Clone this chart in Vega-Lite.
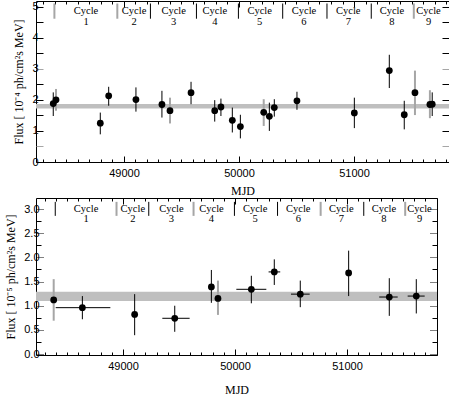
{
  "$schema": "https://vega.github.io/schema/vega-lite/v6.json",
  "padding": {"left": 4, "top": 0, "right": 0, "bottom": 0},
  "autosize": {"type": "pad"},
  "columns": 1,
  "align": "none",
  "spacing": 0,
  "config": {
    "view": {"stroke": "#000", "strokeWidth": 1},
    "axis": {"labelFont": "Liberation Sans", "labelFontSize": 11, "labelColor": "#000", "titleFont": "Liberation Serif", "titleFontSize": 12, "titleFontWeight": "normal", "titleColor": "#000", "domain": false, "grid": false, "tickColor": "#000", "labelOverlap": false, "labelFlush": false},
    "text": {"font": "Liberation Serif", "fontSize": 10.5, "color": "#000"}
  },
  "datasets": {
    "top": [
      {"mjd": 48385, "flux": 1.88, "lo": 1.48, "hi": 2.24, "kind": "a"},
      {"mjd": 48409, "flux": 2.00, "lo": 1.65, "hi": 2.35, "kind": "b"},
      {"mjd": 48794, "flux": 1.25, "lo": 0.89, "hi": 1.59, "kind": "a"},
      {"mjd": 48867, "flux": 2.13, "lo": 1.81, "hi": 2.42, "kind": "a"},
      {"mjd": 49104, "flux": 2.01, "lo": 1.62, "hi": 2.40, "kind": "a"},
      {"mjd": 49330, "flux": 1.85, "lo": 1.43, "hi": 2.29, "kind": "a"},
      {"mjd": 49400, "flux": 1.65, "lo": 1.24, "hi": 2.07, "kind": "b"},
      {"mjd": 49583, "flux": 2.23, "lo": 1.86, "hi": 2.58, "kind": "a"},
      {"mjd": 49789, "flux": 1.65, "lo": 1.30, "hi": 1.99, "kind": "a"},
      {"mjd": 49843, "flux": 1.77, "lo": 1.48, "hi": 2.04, "kind": "a"},
      {"mjd": 49942, "flux": 1.34, "lo": 0.95, "hi": 1.75, "kind": "a"},
      {"mjd": 50012, "flux": 1.14, "lo": 0.76, "hi": 1.52, "kind": "a"},
      {"mjd": 50215, "flux": 1.60, "lo": 1.16, "hi": 2.02, "kind": "b"},
      {"mjd": 50264, "flux": 1.47, "lo": 1.00, "hi": 1.91, "kind": "a"},
      {"mjd": 50307, "flux": 1.75, "lo": 1.46, "hi": 2.02, "kind": "a"},
      {"mjd": 50504, "flux": 1.97, "lo": 1.68, "hi": 2.26, "kind": "a"},
      {"mjd": 51003, "flux": 1.58, "lo": 1.09, "hi": 2.07, "kind": "a"},
      {"mjd": 51307, "flux": 2.94, "lo": 2.38, "hi": 3.45, "kind": "a"},
      {"mjd": 51437, "flux": 1.52, "lo": 1.05, "hi": 1.97, "kind": "a"},
      {"mjd": 51530, "flux": 2.23, "lo": 1.51, "hi": 2.94, "kind": "b"},
      {"mjd": 51660, "flux": 1.85, "lo": 1.41, "hi": 2.31, "kind": "b"},
      {"mjd": 51680, "flux": 1.86, "lo": 1.48, "hi": 2.24, "kind": "a"}
    ],
    "bot": [
      {"mjd": 48381, "flux": 1.12, "lo": 0.69, "hi": 1.55, "x0": null, "x1": null, "kind": "b"},
      {"mjd": 48637, "flux": 0.96, "lo": 0.72, "hi": 1.20, "x0": 48399, "x1": 48887, "kind": "a"},
      {"mjd": 49104, "flux": 0.82, "lo": 0.39, "hi": 1.24, "x0": null, "x1": null, "kind": "a"},
      {"mjd": 49462, "flux": 0.74, "lo": 0.46, "hi": 1.00, "x0": 49351, "x1": 49595, "kind": "a"},
      {"mjd": 49789, "flux": 1.39, "lo": 1.06, "hi": 1.74, "x0": null, "x1": null, "kind": "a"},
      {"mjd": 49848, "flux": 1.15, "lo": 0.81, "hi": 1.52, "x0": null, "x1": null, "kind": "b"},
      {"mjd": 50146, "flux": 1.34, "lo": 1.05, "hi": 1.62, "x0": 50012, "x1": 50280, "kind": "a"},
      {"mjd": 50351, "flux": 1.70, "lo": 1.43, "hi": 1.96, "x0": 50300, "x1": 50404, "kind": "a"},
      {"mjd": 50583, "flux": 1.24, "lo": 0.97, "hi": 1.52, "x0": 50500, "x1": 50667, "kind": "a"},
      {"mjd": 51015, "flux": 1.68, "lo": 1.20, "hi": 2.14, "x0": null, "x1": null, "kind": "a"},
      {"mjd": 51378, "flux": 1.18, "lo": 0.79, "hi": 1.57, "x0": 51288, "x1": 51453, "kind": "a"},
      {"mjd": 51619, "flux": 1.20, "lo": 0.84, "hi": 1.55, "x0": 51542, "x1": 51694, "kind": "a"}
    ],
    "sep": [
      {"mjd": 48395, "kt": "b", "kb": "a"},
      {"mjd": 48942, "kt": "b", "kb": "b"},
      {"mjd": 49230, "kt": "a", "kb": "a"},
      {"mjd": 49630, "kt": "a", "kb": "b"},
      {"mjd": 49995, "kt": "a", "kb": "a"},
      {"mjd": 50380, "kt": "a", "kb": "a"},
      {"mjd": 50765, "kt": "a", "kb": "b"},
      {"mjd": 51150, "kt": "a", "kb": "a"},
      {"mjd": 51520, "kt": "b", "kb": "b"}
    ],
    "cyc": [
      {"mjd": 48670, "n": "1"},
      {"mjd": 49088, "n": "2"},
      {"mjd": 49432, "n": "3"},
      {"mjd": 49790, "n": "4"},
      {"mjd": 50180, "n": "5"},
      {"mjd": 50565, "n": "6"},
      {"mjd": 50950, "n": "7"},
      {"mjd": 51330, "n": "8"},
      {"mjd": 51648, "n": "9"}
    ]
  },
  "concat": [
    {
      "width": 413,
      "height": 161,
      "resolve": {"axis": {"x": "independent", "y": "independent"}},
      "layer": [
        {
          "data": {"values": [{"lo": 1.72, "hi": 1.87}]},
          "mark": {"type": "rect", "color": "#bfbfbf"},
          "encoding": {
            "x": {"datum": 48235, "type": "quantitative", "scale": {"domain": [48235, 51826], "nice": false, "zero": false},
              "axis": {"orient": "bottom", "title": "MJD", "titlePadding": 4,
                "values": [48300,48400,48500,48600,48700,48800,48900,49000,49100,49200,49300,49400,49500,49600,49700,49800,49900,50000,50100,50200,50300,50400,50500,50600,50700,50800,50900,51000,51100,51200,51300,51400,51500,51600,51700,51800],
                "labelExpr": "datum.value % 1000 === 0 ? datum.value : ''",
                "tickSize": {"condition": {"test": "datum.value % 1000 === 0", "value": -6}, "value": -3},
                "labelPadding": 11}},
            "x2": {"datum": 51826},
            "y": {"field": "lo", "type": "quantitative", "scale": {"domain": [0, 5.18], "nice": false, "zero": false},
              "axis": {"orient": "left", "title": "Flux [ 10⁻⁴ ph/cm²s MeV]", "titlePadding": 6,
                "values": [0, 0.5, 1, 1.5, 2, 2.5, 3, 3.5, 4, 4.5, 5],
                "labelExpr": "datum.value % 1 === 0 ? datum.value : ''",
                "tickSize": -7,
                "tickColor": {"condition": {"test": "datum.value === 0.5 || datum.value === 3", "value": "#a6a6a6"}, "value": "#000"},
                "labelPadding": 5}},
            "y2": {"field": "hi"}
          }
        },
        {
          "data": {"name": "sep"},
          "mark": {"type": "rule"},
          "encoding": {
            "x": {"field": "mjd", "type": "quantitative", "scale": {"domain": [48235, 51826], "nice": false, "zero": false},
              "axis": {"orient": "top", "title": null, "labels": false,
                "values": [48300,48400,48500,48600,48700,48800,48900,49000,49100,49200,49300,49400,49500,49600,49700,49800,49900,50000,50100,50200,50300,50400,50500,50600,50700,50800,50900,51000,51100,51200,51300,51400,51500,51600,51700,51800],
                "tickSize": {"condition": {"test": "datum.value % 1000 === 0", "value": -6}, "value": -3}}},
            "y": {"datum": 5.1, "type": "quantitative",
              "axis": {"orient": "right", "title": null, "labels": false,
                "values": [0, 0.5, 1, 1.5, 2, 2.5, 3, 3.5, 4, 4.5, 5],
                "tickSize": -7,
                "tickColor": {"condition": {"test": "datum.value === 0.5 || datum.value === 3", "value": "#a6a6a6"}, "value": "#000"}}},
            "y2": {"datum": 4.61},
            "color": {"field": "kt", "type": "nominal", "scale": {"domain": ["a", "b"], "range": ["#000000", "#a6a6a6"]}, "legend": null},
            "strokeWidth": {"field": "kt", "type": "nominal", "scale": {"domain": ["a", "b"], "range": [1, 2]}, "legend": null}
          }
        },
        {
          "data": {"name": "cyc"},
          "mark": {"type": "text"},
          "encoding": {
            "x": {"field": "mjd", "type": "quantitative", "axis": null},
            "y": {"datum": 4.86, "type": "quantitative", "axis": null},
            "text": {"value": "Cycle"}
          }
        },
        {
          "data": {"name": "cyc"},
          "mark": {"type": "text"},
          "encoding": {
            "x": {"field": "mjd", "type": "quantitative", "axis": null},
            "y": {"datum": 4.5, "type": "quantitative", "axis": null},
            "text": {"field": "n"}
          }
        },
        {
          "data": {"name": "top"},
          "mark": {"type": "rule"},
          "encoding": {
            "x": {"field": "mjd", "type": "quantitative", "axis": null},
            "y": {"field": "lo", "type": "quantitative", "axis": null},
            "y2": {"field": "hi"},
            "color": {"field": "kind", "type": "nominal", "legend": null},
            "strokeWidth": {"field": "kind", "type": "nominal", "legend": null}
          }
        },
        {
          "data": {"name": "top"},
          "mark": {"type": "circle", "size": 46, "color": "#000", "opacity": 1},
          "encoding": {
            "x": {"field": "mjd", "type": "quantitative", "axis": null},
            "y": {"field": "flux", "type": "quantitative", "axis": null}
          }
        }
      ]
    },
    {
      "width": 401,
      "height": 157,
      "resolve": {"axis": {"x": "independent", "y": "independent"}},
      "layer": [
        {
          "data": {"values": [{"lo": 1.10, "hi": 1.29}]},
          "mark": {"type": "rect", "color": "#bfbfbf"},
          "encoding": {
            "x": {"datum": 48223, "type": "quantitative", "scale": {"domain": [48223, 51804], "nice": false, "zero": false},
              "axis": {"orient": "bottom", "title": "MJD", "titlePadding": 10,
                "values": [48300,48400,48500,48600,48700,48800,48900,49000,49100,49200,49300,49400,49500,49600,49700,49800,49900,50000,50100,50200,50300,50400,50500,50600,50700,50800,50900,51000,51100,51200,51300,51400,51500,51600,51700,51800],
                "labelExpr": "datum.value % 1000 === 0 ? datum.value : ''",
                "tickSize": {"condition": {"test": "datum.value % 1000 === 0", "value": -6}, "value": -3},
                "labelPadding": 11}},
            "x2": {"datum": 51804},
            "y": {"field": "lo", "type": "quantitative", "scale": {"domain": [-0.02, 3.23], "nice": false, "zero": false},
              "axis": {"orient": "left", "title": "Flux [ 10⁻⁵ ph/cm²s MeV]", "titlePadding": 6,
                "values": [0, 0.25, 0.5, 0.75, 1, 1.25, 1.5, 1.75, 2, 2.25, 2.5, 2.75, 3],
                "labelExpr": "datum.value % 0.5 === 0 ? format(datum.value, '.1f') : ''",
                "tickSize": {"condition": {"test": "datum.value % 0.5 === 0", "value": -8}, "value": -5},
                "tickDash": {"condition": {"test": "datum.value % 0.5 === 0", "value": [1, 1]}, "value": []},
                "labelPadding": 5}},
            "y2": {"field": "hi"}
          }
        },
        {
          "data": {"name": "sep"},
          "mark": {"type": "rule"},
          "encoding": {
            "x": {"field": "mjd", "type": "quantitative", "scale": {"domain": [48223, 51804], "nice": false, "zero": false},
              "axis": {"orient": "top", "title": null, "labels": false,
                "values": [48300,48400,48500,48600,48700,48800,48900,49000,49100,49200,49300,49400,49500,49600,49700,49800,49900,50000,50100,50200,50300,50400,50500,50600,50700,50800,50900,51000,51100,51200,51300,51400,51500,51600,51700,51800],
                "tickSize": {"condition": {"test": "datum.value % 1000 === 0", "value": -6}, "value": -3}}},
            "y": {"datum": 3.15, "type": "quantitative",
              "axis": {"orient": "right", "title": null, "labels": false,
                "values": [0, 0.25, 0.5, 0.75, 1, 1.25, 1.5, 1.75, 2, 2.25, 2.5, 2.75, 3],
                "tickSize": {"condition": {"test": "datum.value % 0.5 === 0", "value": -8}, "value": -5},
                "tickDash": {"condition": {"test": "datum.value % 0.5 === 0", "value": [1, 1]}, "value": []}}},
            "y2": {"datum": 2.86},
            "color": {"field": "kb", "type": "nominal", "scale": {"domain": ["a", "b"], "range": ["#000000", "#a6a6a6"]}, "legend": null},
            "strokeWidth": {"field": "kb", "type": "nominal", "scale": {"domain": ["a", "b"], "range": [1, 2]}, "legend": null}
          }
        },
        {
          "data": {"name": "cyc"},
          "mark": {"type": "text"},
          "encoding": {
            "x": {"field": "mjd", "type": "quantitative", "axis": null},
            "y": {"datum": 3.01, "type": "quantitative", "axis": null},
            "text": {"value": "Cycle"}
          }
        },
        {
          "data": {"name": "cyc"},
          "mark": {"type": "text"},
          "encoding": {
            "x": {"field": "mjd", "type": "quantitative", "axis": null},
            "y": {"datum": 2.79, "type": "quantitative", "axis": null},
            "text": {"field": "n"}
          }
        },
        {
          "data": {"name": "bot"},
          "mark": {"type": "rule"},
          "encoding": {
            "x": {"field": "mjd", "type": "quantitative", "axis": null},
            "y": {"field": "lo", "type": "quantitative", "axis": null},
            "y2": {"field": "hi"},
            "color": {"field": "kind", "type": "nominal", "legend": null},
            "strokeWidth": {"field": "kind", "type": "nominal", "legend": null}
          }
        },
        {
          "data": {"name": "bot"},
          "transform": [{"filter": "isValid(datum.x0)"}],
          "mark": {"type": "rule", "color": "#000", "strokeWidth": 1},
          "encoding": {
            "x": {"field": "x0", "type": "quantitative", "axis": null},
            "x2": {"field": "x1"},
            "y": {"field": "flux", "type": "quantitative", "axis": null}
          }
        },
        {
          "data": {"name": "bot"},
          "mark": {"type": "circle", "size": 46, "color": "#000", "opacity": 1},
          "encoding": {
            "x": {"field": "mjd", "type": "quantitative", "axis": null},
            "y": {"field": "flux", "type": "quantitative", "axis": null}
          }
        }
      ]
    }
  ]
}
